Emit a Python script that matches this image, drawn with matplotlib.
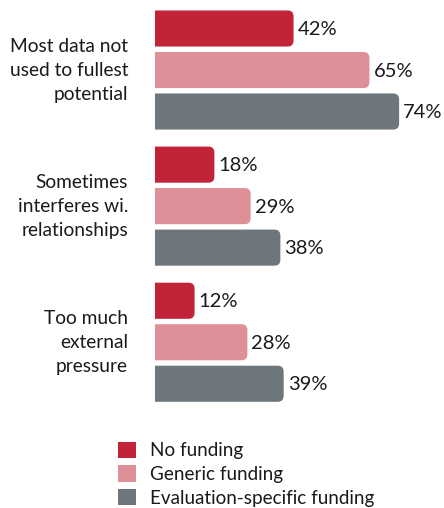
import numpy as np
import matplotlib
matplotlib.use("Agg")
import matplotlib.pyplot as plt
from matplotlib.patches import FancyBboxPatch, Patch

plt.rcParams['font.family'] = ['Lato', 'DejaVu Sans']

categories = ["Most data not\nused to fullest\npotential",
              "Sometimes\ninterferes wi.\nrelationships",
              "Too much\nexternal\npressure"]
series = ["No funding", "Generic funding", "Evaluation-specific funding"]
no_funding = [42, 18, 12]
generic_funding = [65, 29, 28]
eval_funding = [74, 38, 39]
colors = ["#C12338", "#DF8F97", "#6D777B"]

W, H = 444, 508
fig = plt.figure(figsize=(W / 100, H / 100), dpi=100)
ax = fig.add_axes([155 / W, 100 / H, 1 - 155 / W, 408 / H])

group_gap = 3.28
bar_h = 0.87
xmax = 87.6
ax.set_xlim(0, xmax)
ax.set_ylim(408 / 41.5 - 0.687, -0.687)

base = np.arange(len(categories)) * group_gap
all_vals = [no_funding, generic_funding, eval_funding]

# pixel -> data scale, used to keep the rounded corners circular
dx = xmax / (W - 155)
dy = 1 / 41.5
radius_px = 6

for j, (vals, c) in enumerate(zip(all_vals, colors)):
    bars = ax.barh(base + j, vals, height=bar_h, color=c)
    for rect, v in zip(bars, vals):
        rect.set_visible(False)
        r = radius_px * dx
        p = FancyBboxPatch((rect.get_x() - 2 * r, rect.get_y()),
                           rect.get_width() + 2 * r, rect.get_height(),
                           boxstyle=f"round,pad=0,rounding_size={r}",
                           mutation_aspect=dy / dx,
                           facecolor=c, edgecolor="none")
        ax.add_patch(p)
        ax.text(v + 4 * dx, rect.get_y() + rect.get_height() / 2 + 0.03, f"{v}%",
                va="center", ha="left", fontsize=14.5, color="#1a1a1a")

for y, lab in zip(base + 1, categories):
    ax.text(-27 * dx, y, lab, ha="right", va="center", fontsize=13.8,
            color="#1a1a1a", linespacing=1.5)

ax.axis("off")

handles = [Patch(facecolor=c, edgecolor="none") for c in colors]
fig.legend(handles, series, loc="upper left",
           bbox_to_anchor=(110 / W, 1 - 434 / H), frameon=False,
           fontsize=13.6, handlelength=0.95, handleheight=0.95,
           handletextpad=0.75, labelspacing=0.32, borderaxespad=0,
           labelcolor="#1a1a1a")

fig.savefig("out.png", dpi=100)
